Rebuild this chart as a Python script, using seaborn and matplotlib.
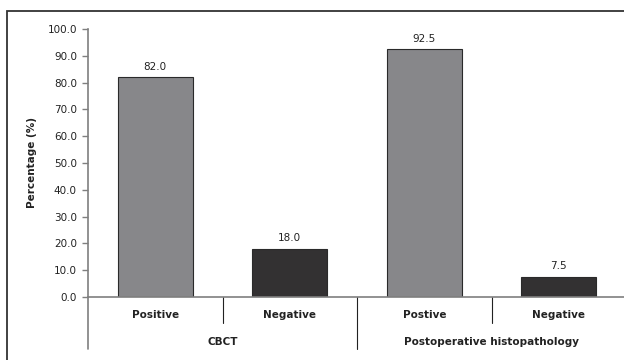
"""Bar chart of CBCT vs postoperative histopathology results."""
import numpy as np
import pandas as pd
import seaborn as sns
import matplotlib.pyplot as plt
from matplotlib.patches import Rectangle
from matplotlib.transforms import blended_transform_factory

groups = ["CBCT", "CBCT", "Postoperative histopathology", "Postoperative histopathology"]
results = ["pos", "neg", "pos", "neg"]
tick_labels = ["Positive", "Negative", "Postive", "Negative"]
percent = [82.0, 18.0, 92.5, 7.5]
group_names = ["CBCT", "Postoperative histopathology"]

dfrm = pd.DataFrame({
    'key': ["{G} {R}".format(G=g, R=r) for g, r in zip(groups, results)],
    'result': results,
    'pct': percent,
})

sns.set_theme(style="white")
plt.rcParams['font.family'] = ['DejaVu Sans']
grey = '#7f7f7f'
txtsz = 7.5

fig = plt.figure(figsize=(6.24, 3.6), dpi=100)
ax = fig.add_axes([88/624, 63/360, 538/624, 268/360])

sns.barplot(data=dfrm, x='key', y='pct', hue='result', dodge=False, ax=ax,
            palette={'pos': '#87878a', 'neg': '#333132'}, width=0.56,
            edgecolor='#2a2a2a', linewidth=0.8, legend=False)
for cont in ax.containers:
    ax.bar_label(cont, fmt='%.1f', padding=4, fontsize=txtsz, color='#222222')

ax.set_xlim(-0.5, 3.5)
ax.set_ylim(0, 100)
ax.set_yticks(np.arange(0, 101, 10))
ax.set_yticklabels(["{:.1f}".format(v) for v in np.arange(0, 101, 10)])
ax.tick_params(axis='y', left=True, length=4, width=1, color=grey, pad=4,
               labelsize=txtsz, labelcolor='#222222')
ax.set_xticks(range(len(tick_labels)))
ax.set_xticklabels(tick_labels, fontsize=txtsz, fontweight='bold', color='#222222')
ax.tick_params(axis='x', length=0, pad=9)
ax.set_xlabel("")
ax.set_ylabel("Percentage (%)", fontsize=txtsz, fontweight='bold', color='#222222')
ax.yaxis.set_label_coords(-0.094, 0.5)

for side in ['top', 'right']:
    ax.spines[side].set_visible(False)
for side in ['left', 'bottom']:
    ax.spines[side].set_color(grey)
    ax.spines[side].set_linewidth(1.2)

# separators and group labels below the axis
trans = blended_transform_factory(ax.transData, ax.transAxes)
ax.plot([-0.5, -0.5], [0, -0.194], color=grey, lw=1.2, transform=trans, clip_on=False)
ax.plot([1.5, 1.5], [0, -0.194], color='#222222', lw=0.8, transform=trans, clip_on=False)
for xsep in [0.5, 2.5]:
    ax.plot([xsep, xsep], [0, -0.097], color='#222222', lw=0.8, transform=trans, clip_on=False)
for idx, name in enumerate(group_names):
    ax.text(0.5 + 2*idx, -0.168, name, transform=trans, ha='center', va='center',
            fontsize=txtsz, fontweight='bold', color='#222222')

# outer frame (cropped on right and bottom)
fig.patches.append(Rectangle((7/624, -0.1), 1.2, (360 - 10.5)/360 + 0.1,
                             transform=fig.transFigure, fill=False,
                             edgecolor='#333333', lw=1.3))

fig.savefig("out.png", dpi=100)
